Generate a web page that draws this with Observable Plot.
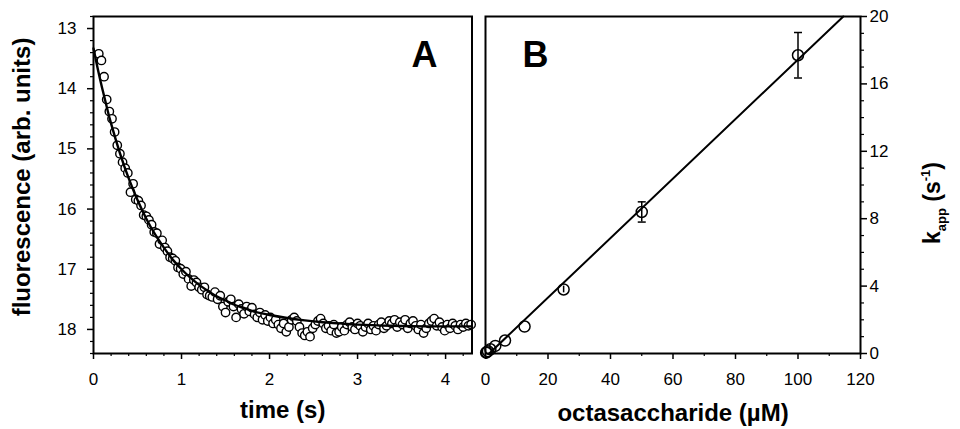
<!DOCTYPE html>
<html><head><meta charset="utf-8">
<script src="https://cdn.jsdelivr.net/npm/d3@7"></script>
<script src="https://cdn.jsdelivr.net/npm/@observablehq/plot@0.6"></script>
<style>
html,body{margin:0;padding:0;background:#fff;}
#wrap{position:relative;width:960px;height:429px;overflow:hidden;background:#fff;}
#wrap svg{position:absolute;top:0;}
</style></head><body><div id="wrap"></div>
<script>
// ---- Panel A: fluorescence trace ----
const timeA = [0.06,0.09,0.12,0.15,0.18,0.21,0.24,0.27,0.30,0.33,0.36,0.39,0.42,0.45,0.48,0.51,0.54,0.57,0.60,0.63,0.66,0.69,0.72,0.75,0.78,0.81,0.84,0.87,0.90,0.93,0.96,0.99,1.02,1.05,1.08,1.11,1.14,1.17,1.20,1.23,1.26,1.29,1.32,1.35,1.38,1.41,1.44,1.47,1.50,1.53,1.56,1.59,1.62,1.65,1.68,1.71,1.74,1.77,1.80,1.83,1.86,1.89,1.92,1.95,1.98,2.01,2.04,2.07,2.10,2.13,2.16,2.19,2.22,2.25,2.28,2.31,2.34,2.37,2.40,2.43,2.46,2.49,2.52,2.55,2.58,2.61,2.64,2.67,2.70,2.73,2.76,2.79,2.82,2.85,2.88,2.91,2.94,2.97,3.00,3.03,3.06,3.09,3.12,3.15,3.18,3.21,3.24,3.27,3.30,3.33,3.36,3.39,3.42,3.45,3.48,3.51,3.54,3.57,3.60,3.63,3.66,3.69,3.72,3.75,3.78,3.81,3.84,3.87,3.90,3.93,3.96,3.99,4.02,4.05,4.08,4.11,4.14,4.17,4.20,4.23,4.26,4.29];
const fluorA = [13.42,13.53,13.80,14.18,14.38,14.50,14.72,14.94,15.08,15.22,15.32,15.40,15.72,15.58,15.84,15.86,15.94,16.10,16.12,16.18,16.26,16.38,16.40,16.58,16.52,16.64,16.70,16.80,16.82,16.86,16.97,16.99,17.08,17.04,17.16,17.28,17.18,17.22,17.30,17.34,17.30,17.42,17.44,17.46,17.38,17.50,17.44,17.62,17.72,17.54,17.50,17.62,17.80,17.58,17.66,17.74,17.62,17.70,17.64,17.75,17.80,17.72,17.84,17.76,17.86,17.80,17.90,17.84,17.92,17.98,17.90,18.04,17.96,17.84,17.80,17.86,17.96,18.06,18.10,18.04,18.12,17.98,17.92,17.86,17.82,17.90,17.98,17.94,18.02,17.92,18.06,18.04,17.96,18.02,17.92,17.88,17.96,18.00,17.90,17.94,18.04,17.96,17.90,18.00,17.94,18.02,17.92,17.88,17.98,17.94,17.86,17.90,17.84,17.96,17.88,17.92,17.84,17.98,17.90,17.86,17.94,18.00,17.92,18.06,17.98,17.90,17.86,17.82,17.94,17.88,17.96,18.02,17.92,17.98,17.90,17.94,18.00,17.92,17.96,17.90,17.94,17.92];
const fitTimeA = [0,0.05,0.1,0.15,0.2,0.3,0.4,0.5,0.6,0.7,0.8,0.9,1.0,1.1,1.2,1.3,1.4,1.5,1.6,1.7,1.8,1.9,2.0,2.2,2.4,2.6,2.8,3.0,3.4,3.8,4.3];
const fitFluorA = [13.33,13.68,14.00,14.30,14.58,15.07,15.49,15.85,16.16,16.42,16.64,16.84,17.00,17.14,17.26,17.36,17.45,17.52,17.59,17.64,17.69,17.73,17.76,17.81,17.85,17.88,17.90,17.92,17.94,17.95,17.95];
const yTicksA = [13,14,15,16,17,18];
const xTicksA = [0,1,2,3,4];

// ---- Panel B: k_app vs concentration ----
const concB = [0.2,0.39,0.78,1.56,3.13,6.25,12.5,25,50,100];
const kappB = [0.05,0.08,0.14,0.25,0.45,0.77,1.6,3.8,8.4,17.7];
const errB  = [0,0,0,0,0,0,0,0.2,0.6,1.35];
const fitConcB = [1.2,114.5];
const fitKappB = [0,20];
const xTicksB = [0,20,40,60,80,100,120];
const yTicksB = [0,4,8,12,16,20];

const font = "'Liberation Sans', Arial, Helvetica, sans-serif";
const ptsA = timeA.map((t,i)=>({t, f: fluorA[i]}));
const fitA = fitTimeA.map((t,i)=>({t, f: fitFluorA[i]}));
const ptsB = concB.map((c,i)=>({c, k: kappB[i], e: errB[i]}));
const fitB = fitConcB.map((c,i)=>({c, k: fitKappB[i]}));

const minorYA = d3.range(12.8, 18.41, 0.2).map(v=>+v.toFixed(1)).filter(v=>!yTicksA.includes(v));
const minorXA = d3.range(0, 4.31, 0.2).map(v=>+v.toFixed(1)).filter(v=>!xTicksA.includes(v));
const minorXB = d3.range(10, 120, 20);
const minorYB = d3.range(0, 20.01, 1).filter(v=>!yTicksB.includes(v));
const fmt = d => String(d);

const hbar = {draw(ctx, size){ const r = Math.sqrt(size/Math.PI); ctx.moveTo(-r,0); ctx.lineTo(r,0); }};

const common = {height: 429, marginTop: 16, marginBottom: 76,
  style: {fontFamily: font, fontSize: "17px", color: "black", background: "transparent", overflow: "visible"}};

const plotA = Plot.plot({
  ...common, width: 476, marginLeft: 93, marginRight: 4.5,
  x: {domain: [0, 4.3]},
  y: {domain: [12.8, 18.4], reverse: true},
  marks: [
    Plot.axisY({ticks: yTicksA, tickFormat: fmt, anchor: "left", tickSize: 6, tickPadding: 11, strokeWidth: 1.5, label: null}),
    Plot.axisY({ticks: minorYA, anchor: "left", tickSize: 3, strokeWidth: 1.2, fill: "none", label: null}),
    Plot.axisX({ticks: xTicksA, tickFormat: fmt, anchor: "bottom", tickSize: 6, tickPadding: 13, strokeWidth: 1.5, label: null}),
    Plot.axisX({ticks: minorXA, anchor: "bottom", tickSize: 3, strokeWidth: 1.2, fill: "none", label: null}),
    Plot.dot(ptsA, {x: "t", y: "f", r: 4.2, fill: "white", stroke: "black", strokeWidth: 1.4}),
    Plot.line(fitA, {x: "t", y: "f", curve: "natural", stroke: "black", strokeWidth: 2.4}),
    Plot.frame({stroke: "black", strokeWidth: 2}),
    Plot.text(["A"], {text: d=>d, frameAnchor: "top-right", textAnchor: "end", lineAnchor: "middle", dx: -34.5, dy: 39, fontSize: 36, fontWeight: "bold"}),
    Plot.text(["time (s)"], {text: d=>d, frameAnchor: "bottom", textAnchor: "middle", lineAnchor: "middle", dy: 57, fontSize: 24, fontWeight: "bold"}),
    Plot.text(["fluorescence (arb. units)"], {text: d=>d, frameAnchor: "left", rotate: -90, textAnchor: "middle", lineAnchor: "middle", dx: -71, dy: -8, fontSize: 24, fontWeight: "bold"})
  ]
});

const plotB = Plot.plot({
  ...common, width: 484, marginLeft: 9, marginRight: 100,
  x: {domain: [0, 120]},
  y: {domain: [0, 20]},
  marks: [
    Plot.axisY({ticks: yTicksB, tickFormat: fmt, anchor: "right", tickSize: 6, tickPadding: 3, strokeWidth: 1.5, label: null}),
    Plot.axisY({ticks: minorYB, anchor: "right", tickSize: 3, strokeWidth: 1.2, fill: "none", label: null}),
    Plot.axisX({ticks: xTicksB, tickFormat: fmt, anchor: "bottom", tickSize: 6, tickPadding: 13, strokeWidth: 1.5, label: null}),
    Plot.axisX({ticks: minorXB, anchor: "bottom", tickSize: 3, strokeWidth: 1.2, fill: "none", label: null}),
    Plot.ruleX(ptsB.filter(d=>d.e>0), {x: "c", y1: d=>d.k-d.e, y2: d=>d.k+d.e, stroke: "black", strokeWidth: 1.5}),
    Plot.dot(ptsB.filter(d=>d.e>0.5), {x: "c", y: d=>d.k+d.e, symbol: hbar, r: 4, fill: "none", stroke: "black", strokeWidth: 1.5}),
    Plot.dot(ptsB.filter(d=>d.e>0.5), {x: "c", y: d=>d.k-d.e, symbol: hbar, r: 4, fill: "none", stroke: "black", strokeWidth: 1.5}),
    Plot.dot(ptsB, {x: "c", y: "k", r: 5.5, fill: "none", stroke: "black", strokeWidth: 1.5}),
    Plot.line(fitB, {x: "c", y: "k", stroke: "black", strokeWidth: 2}),
    Plot.frame({stroke: "black", strokeWidth: 2}),
    Plot.text(["B"], {text: d=>d, frameAnchor: "top-left", textAnchor: "start", lineAnchor: "middle", dx: 37, dy: 39, fontSize: 36, fontWeight: "bold"}),
    Plot.text(["octasaccharide (µM)"], {text: d=>d, frameAnchor: "bottom", textAnchor: "middle", lineAnchor: "middle", dy: 60, fontSize: 24, fontWeight: "bold"})
  ]
});

const wrap = document.getElementById("wrap");
plotA.style.left = "0px";
plotB.style.left = "476px";
wrap.appendChild(plotA);
wrap.appendChild(plotB);

// right-hand axis title with subscript and superscript
const lab = d3.select(plotB).append("text")
  .attr("transform", "translate(464,203) rotate(-90)")
  .attr("text-anchor", "middle")
  .attr("font-family", font)
  .attr("font-weight", "bold")
  .attr("font-size", 23)
  .attr("fill", "black");
lab.append("tspan").text("k");
lab.append("tspan").attr("font-size", 13).attr("dy", 6).text("app");
lab.append("tspan").attr("dy", -6).text(" (s");
lab.append("tspan").attr("font-size", 13).attr("dy", -10).text("-1");
lab.append("tspan").attr("dy", 10).text(")");
</script></body></html>
